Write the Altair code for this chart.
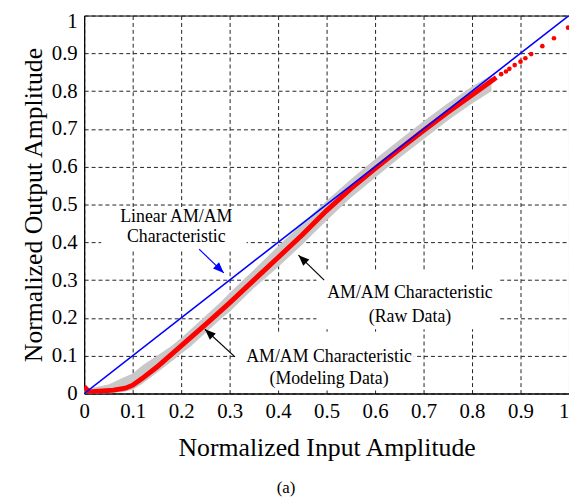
import altair as alt
import pandas as pd

# ---- data ----
ticks = [0, 0.1, 0.2, 0.3, 0.4, 0.5, 0.6, 0.7, 0.8, 0.9, 1]

# modeling data (red)
model_x = [0.0, 0.01, 0.03, 0.06, 0.085, 0.1, 0.12, 0.15, 0.2, 0.25, 0.3, 0.35,
           0.4, 0.45, 0.5, 0.55, 0.6, 0.65, 0.7, 0.75, 0.8, 0.85]
model_y = [0.018, 0.004, 0.006, 0.009, 0.014, 0.022, 0.04, 0.07, 0.126, 0.182,
           0.24, 0.30, 0.36, 0.42, 0.484, 0.542, 0.595, 0.646, 0.696, 0.744,
           0.79, 0.836]
tail_x = [0.86, 0.87, 0.877, 0.888, 0.9, 0.91, 0.922, 0.945, 0.969, 0.998]
tail_y = [0.845, 0.852, 0.859, 0.869, 0.878, 0.887, 0.898, 0.919, 0.94, 0.968]

# raw data (grey band)
raw_x = [0.0, 0.02, 0.05, 0.08, 0.1, 0.12, 0.15, 0.18, 0.2, 0.22, 0.25, 0.28,
         0.3, 0.33, 0.35, 0.4, 0.45, 0.5, 0.55, 0.6, 0.65, 0.7, 0.75, 0.8, 0.84]
raw_hi = [0.014, 0.016, 0.024, 0.042, 0.053, 0.074, 0.1, 0.126, 0.147, 0.17, 0.205,
          0.24, 0.266, 0.303, 0.327, 0.39, 0.45, 0.51, 0.567, 0.62, 0.671,
          0.72, 0.768, 0.812, 0.842]
raw_lo = [0.0, 0.0, 0.0, 0.004, 0.01, 0.026, 0.055, 0.085, 0.105, 0.125, 0.16,
          0.195, 0.216, 0.254, 0.279, 0.335, 0.394, 0.458, 0.518, 0.571, 0.623,
          0.673, 0.722, 0.767, 0.8]

# linear characteristic (blue)
lin_x = [0, 1]
lin_y = [0, 1]

# annotations
ann_text = ["Linear AM/AM", "Characteristic",
            "AM/AM Characteristic", "(Raw Data)",
            "AM/AM Characteristic", "(Modeling Data)"]
ann_x = [0.19, 0.19, 0.672, 0.672, 0.505, 0.505]
ann_y = [0.466, 0.414, 0.267, 0.202, 0.097, 0.037]

box_x = [0.035, 0.479, 0.311]
box_x2 = [0.335, 0.857, 0.68]
box_y = [0.38, 0.17, 0.008]
box_y2 = [0.492, 0.322, 0.16]

arr_x = [0.237, 0.495, 0.311]
arr_y = [0.382, 0.30, 0.097]
arr_x2 = [0.288, 0.442, 0.249]
arr_y2 = [0.319, 0.366, 0.170]
arr_ang = [134, 314, 313]
arr_col = ["#0000ff", "black", "black"]

# ---- tables ----
model_df = pd.DataFrame({"x": model_x, "y": model_y})
tail_df = pd.DataFrame({"x": tail_x, "y": tail_y})
raw_df = pd.DataFrame({"x": raw_x, "lo": raw_lo, "hi": raw_hi})
lin_df = pd.DataFrame({"x": lin_x, "y": lin_y})
ann_df = pd.DataFrame({"t": ann_text, "x": ann_x, "y": ann_y})
box_df = pd.DataFrame({"x": box_x, "x2": box_x2, "y": box_y, "y2": box_y2})
arr_df = pd.DataFrame({"x": arr_x, "y": arr_y, "x2": arr_x2, "y2": arr_y2,
                       "ang": arr_ang, "c": arr_col})

FONT = "Liberation Serif"
xs = alt.Scale(domain=[0, 1], nice=False, zero=False)
ys = alt.Scale(domain=[0, 1], nice=False, zero=False)

xax = alt.Axis(values=ticks, format="~g", title="Normalized Input Amplitude",
               labelAlign=alt.expr("datum.value == 1 ? 'right' : 'center'"),
               labelOverlap=False, titlePadding=14)
yax = alt.Axis(values=ticks, format="~g", title="Normalized Output Amplitude",
               labelOffset=alt.expr("datum.value == 1 ? 6 : 0"),
               labelOverlap=False, titlePadding=5)


def X(f):
    return alt.X(f, scale=xs, axis=xax)


def Y(f):
    return alt.Y(f, scale=ys, axis=yax)


boxes = alt.Chart(box_df).mark_rect(color="white").encode(
    x=X("x:Q"), x2="x2", y=Y("y:Q"), y2="y2")

raw = alt.Chart(raw_df).mark_area(color="#c8c8c8", clip=True).encode(
    x=X("x:Q"), y=Y("lo:Q"), y2="hi")

model = alt.Chart(model_df).mark_line(color="#ff0000", strokeWidth=5, clip=True).encode(
    x=X("x:Q"), y=Y("y:Q"))

tail = alt.Chart(tail_df).mark_circle(color="#ff0000", size=22, opacity=1, clip=True).encode(
    x=X("x:Q"), y=Y("y:Q"))

lin = alt.Chart(lin_df).mark_line(color="#0000ff", strokeWidth=1.6, clip=True).encode(
    x=X("x:Q"), y=Y("y:Q"))

texts = alt.Chart(ann_df).mark_text(font=FONT, fontSize=18, color="black",
                                    align="center", baseline="middle").encode(
    x=X("x:Q"), y=Y("y:Q"), text="t:N")

arrows = alt.Chart(arr_df).mark_rule(strokeWidth=1.2).encode(
    x=X("x:Q"), y=Y("y:Q"), x2="x2", y2="y2",
    color=alt.Color("c:N", scale=None))

heads = alt.Chart(arr_df).mark_point(shape="M0,0L-0.4,1L0.4,1Z", filled=True,
                                     size=480, opacity=1).encode(
    x=X("x2:Q"), y=Y("y2:Q"),
    angle=alt.Angle("ang:Q", scale=None),
    color=alt.Color("c:N", scale=None))

chart = alt.layer(boxes, raw, model, tail, lin, texts, arrows, heads).properties(
    width=490, height=382,
    autosize=alt.AutoSizeParams(type="none"),
    padding={"left": 77, "top": 5, "right": 0, "bottom": 104},
    title=alt.TitleParams("(a)", orient="bottom", font=FONT, fontSize=17,
                          fontWeight="normal", color="black", dx=-41, offset=20),
).configure_axis(
    labelFont=FONT, titleFont=FONT, labelFontSize=21, titleFontSize=26,
    titleFontWeight="normal", labelColor="black", titleColor="black",
    domainColor="black", domainWidth=1, grid=True, gridColor="#222222",
    gridDash=[4, 3], gridWidth=1, gridOpacity=1, ticks=False, labelPadding=7,
    labelOverlap=False,
).configure_axisY(labelOverlap=False).configure_view(stroke="black", strokeWidth=1)

chart.save("out.html", embed_options={"renderer": "svg", "actions": False})
